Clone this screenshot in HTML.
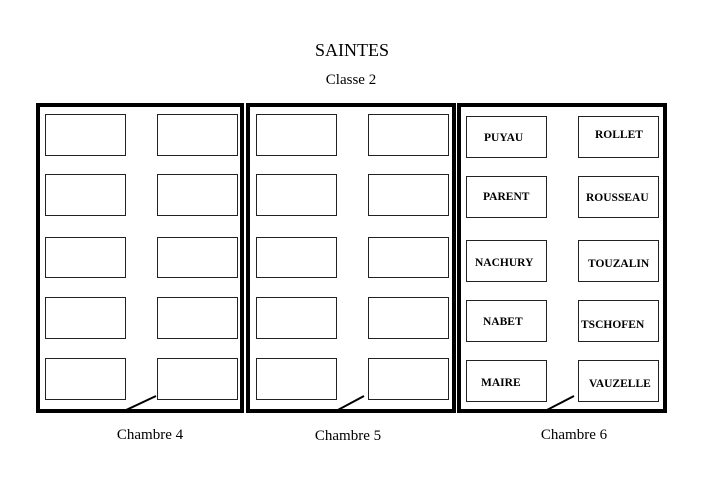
<!DOCTYPE html>
<html><head><style>
html,body{margin:0;padding:0;background:#fff;}
svg{display:block;}
text{font-family:"Liberation Serif",serif;fill:#000;}
.n{font-weight:bold;font-size:11.5px;}
.b{fill:#fff;stroke:#222;stroke-width:1;}
.r{fill:none;stroke:#000;stroke-width:4;}
</style></head><body>
<svg width="702" height="496" viewBox="0 0 702 496">
<text x="352" y="56" font-size="18" text-anchor="middle">SAINTES</text>
<text x="351" y="84" font-size="15" text-anchor="middle">Classe 2</text>

<rect class="r" x="38" y="105" width="204" height="306"/>
<rect class="r" x="248" y="105" width="206" height="306"/>
<rect class="r" x="459" y="105" width="206" height="306"/>

<g>
<rect class="b" x="45.5" y="114.5" width="80" height="41"/>
<rect class="b" x="157.5" y="114.5" width="80" height="41"/>
<rect class="b" x="45.5" y="174.5" width="80" height="41"/>
<rect class="b" x="157.5" y="174.5" width="80" height="41"/>
<rect class="b" x="45.5" y="237.5" width="80" height="40"/>
<rect class="b" x="157.5" y="237.5" width="80" height="40"/>
<rect class="b" x="45.5" y="297.5" width="80" height="41"/>
<rect class="b" x="157.5" y="297.5" width="80" height="41"/>
<rect class="b" x="45.5" y="358.5" width="80" height="41"/>
<rect class="b" x="157.5" y="358.5" width="80" height="41"/>
</g>
<g>
<rect class="b" x="256.5" y="114.5" width="80" height="41"/>
<rect class="b" x="368.5" y="114.5" width="80" height="41"/>
<rect class="b" x="256.5" y="174.5" width="80" height="41"/>
<rect class="b" x="368.5" y="174.5" width="80" height="41"/>
<rect class="b" x="256.5" y="237.5" width="80" height="40"/>
<rect class="b" x="368.5" y="237.5" width="80" height="40"/>
<rect class="b" x="256.5" y="297.5" width="80" height="41"/>
<rect class="b" x="368.5" y="297.5" width="80" height="41"/>
<rect class="b" x="256.5" y="358.5" width="80" height="41"/>
<rect class="b" x="368.5" y="358.5" width="80" height="41"/>
</g>
<g>
<rect class="b" x="466.5" y="116.5" width="80" height="41"/>
<rect class="b" x="578.5" y="116.5" width="80" height="41"/>
<rect class="b" x="466.5" y="176.5" width="80" height="41"/>
<rect class="b" x="578.5" y="176.5" width="80" height="41"/>
<rect class="b" x="466.5" y="240.5" width="80" height="41"/>
<rect class="b" x="578.5" y="240.5" width="80" height="41"/>
<rect class="b" x="466.5" y="300.5" width="80" height="41"/>
<rect class="b" x="578.5" y="300.5" width="80" height="41"/>
<rect class="b" x="466.5" y="360.5" width="80" height="41"/>
<rect class="b" x="578.5" y="360.5" width="80" height="41"/>
</g>

<text class="n" x="484" y="141">PUYAU</text>
<text class="n" x="595" y="138">ROLLET</text>
<text class="n" x="483" y="200">PARENT</text>
<text class="n" x="586" y="201">ROUSSEAU</text>
<text class="n" x="475" y="266">NACHURY</text>
<text class="n" x="588" y="267">TOUZALIN</text>
<text class="n" x="483" y="325">NABET</text>
<text class="n" x="581" y="328">TSCHOFEN</text>
<text class="n" x="481" y="386">MAIRE</text>
<text class="n" x="589" y="387">VAUZELLE</text>

<g stroke="#000" stroke-width="2">
<line x1="124" y1="411" x2="156" y2="396"/>
<line x1="336" y1="411" x2="364" y2="396"/>
<line x1="545" y1="411" x2="574" y2="396"/>
</g>

<text x="150" y="439" font-size="15" text-anchor="middle">Chambre 4</text>
<text x="348" y="440" font-size="15" text-anchor="middle">Chambre 5</text>
<text x="574" y="439" font-size="15" text-anchor="middle">Chambre 6</text>
</svg>
</body></html>
